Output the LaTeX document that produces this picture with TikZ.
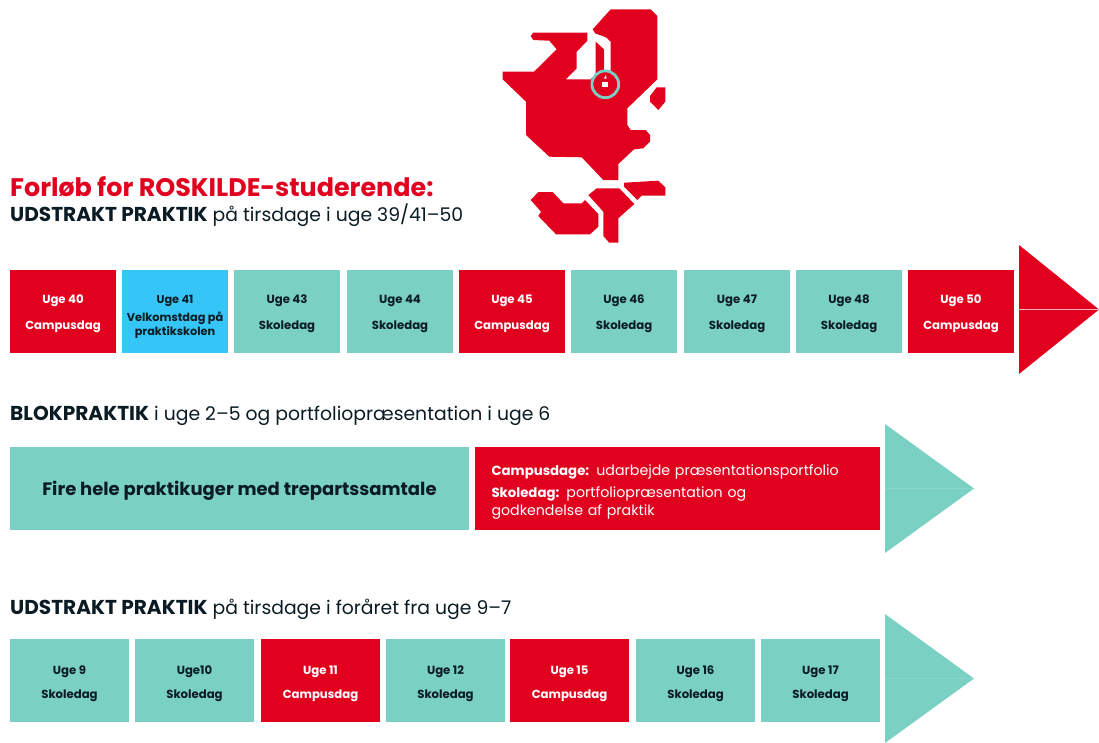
\documentclass[tikz,border=0pt]{standalone}
\usepackage{fontspec}
\setmainfont{Poppins}
\usepackage{xcolor}
\definecolor{dkred}{HTML}{E2001F}
\definecolor{dkteal}{HTML}{7AD1C3}
\definecolor{dkblue}{HTML}{36C5F7}
\definecolor{dkink}{HTML}{0B1B24}
\newcommand{\ugetxt}[2]{\rule{0pt}{13.4pt}#1\\[12pt]#2}
\newcommand{\ugetxtb}[2]{\rule{0pt}{15.4pt}#1\\[10pt]#2}
\newcommand{\hfed}[1]{{\fontsize{20.1}{22}\selectfont\bfseries #1}}
\newcommand{\pfed}[1]{{\fontsize{13.3}{18}\selectfont\bfseries #1}}
\tikzset{
  ugebox/.style={minimum height=83pt,inner sep=0pt,align=center,font=\fontsize{11.7}{14}\selectfont\bfseries},
  skole/.style={ugebox,fill=dkteal,text=dkink},
  campus/.style={ugebox,fill=dkred,text=white},
  velkomst/.style={ugebox,fill=dkblue,text=dkink},
  heading/.style={anchor=west,inner sep=0pt,text=dkink,font=\fontsize{18.8}{22}\selectfont},
}
\begin{document}
\begin{tikzpicture}[x=1pt,y=-1pt]
\useasboundingbox (0,0) rectangle (1099,742);

% kort
\fill[dkred] (610.7,9.3) -- (650.7,9.3) -- (657.3,16) -- (657.3,79.3) -- (627.3,108.3) -- (627.3,125) -- (630.7,130) -- (645.7,130)
  -- (650,135) -- (650,141.7) -- (643.3,148.3) -- (634,149.3) -- (618.3,164) -- (618.3,180) -- (603.3,180) -- (581.7,157.3)
  -- (549.3,156.7) -- (526,135) -- (526,101.7) -- (502.7,79.3) -- (502.7,71.7) -- (534,71.7) -- (556.7,49.3) -- (549.3,40.7)
  -- (533.3,40) -- (530.7,36) -- (533.3,32.7) -- (587.3,32.7) -- (587.3,40.7) -- (576.7,51.7) -- (576.7,68.3) -- (565.7,79.3)
  -- (590.7,79.3) -- (595.7,74) -- (595.7,41.7) -- (604,49.3) -- (604,71.7) -- (610.7,71.7) -- (610.7,41.7) -- (606,37.3)
  -- (595,33.3) -- (592.7,29.3) -- cycle;
\fill[dkred] (656.7,87.3) -- (665.3,87.3) -- (665.3,101.7) -- (658.3,110) -- (650,101.7) -- (650,96) -- cycle;
\fill[dkred] (624,182.7) -- (658.3,180.7) -- (665.3,187.3) -- (665.3,195.7) -- (641.7,195.7) -- (637.3,200) -- (624,186.7) -- cycle;
\fill[dkred] (596.7,188.3) -- (619.3,188.3) -- (634.3,204) -- (618.3,218.3) -- (618.3,242.7) -- (609.3,242.7) -- (603.3,236) -- (603.3,211.7) -- (588.3,195) -- cycle;
\fill[dkred] (538.3,192) -- (552.7,192) -- (563.3,203.3) -- (581.7,203.3) -- (585,200) -- (598.3,214) -- (598.3,226.7) -- (590,234.3) -- (556,234.3) -- (538.3,216) -- (541,211.7) -- (530.7,200) -- cycle;
\draw[dkteal,line width=2.8pt] (605.3,84.3) circle (13.4);
\fill[white] (602.3,81.7) rectangle (607.7,87);
\fill[white] (604,78.5) -- (606,75) -- (606.5,78.5) -- cycle;

% overskrifter
\node[heading,text=dkred,font=\fontsize{25.4}{28}\selectfont\bfseries] (titel) at (10,187) {Forløb for ROSKILDE-studerende:};
\node[heading] (udstrakt1) at (10,215) {\hfed{UDSTRAKT PRAKTIK} på tirsdage i uge 39/41–50};
\node[heading] (blok) at (10,415.5) {\hfed{BLOKPRAKTIK} i uge 2–5 og portfoliopræsentation i uge 6};
\node[heading] (udstrakt2) at (10,609.5) {\hfed{UDSTRAKT PRAKTIK} på tirsdage i foråret fra uge 9–7};

% efterår
\begin{scope}
\node[campus,minimum width=106pt] (uge40) at (63,311.5) {\ugetxt{Uge 40}{Campusdag}};
\node[velkomst,minimum width=106pt,font=\fontsize{11.3}{14}\selectfont\bfseries] (uge41) at (175,311.5) {\rule{0pt}{18pt}Uge 41\\[4pt]Velkomstdag på\\praktikskolen};
\node[skole,minimum width=106pt] (uge43) at (287,311.5) {\ugetxt{Uge 43}{Skoledag}};
\node[skole,minimum width=106pt] (uge44) at (400,311.5) {\ugetxt{Uge 44}{Skoledag}};
\node[campus,minimum width=106pt] (uge45) at (512,311.5) {\ugetxt{Uge 45}{Campusdag}};
\node[skole,minimum width=106pt] (uge46) at (624,311.5) {\ugetxt{Uge 46}{Skoledag}};
\node[skole,minimum width=106pt] (uge47) at (737,311.5) {\ugetxt{Uge 47}{Skoledag}};
\node[skole,minimum width=106pt] (uge48) at (849,311.5) {\ugetxt{Uge 48}{Skoledag}};
\node[campus,minimum width=106pt] (uge50) at (961,311.5) {\ugetxt{Uge 50}{Campusdag}};
\fill[dkred] (1019,245) -- (1099,309.5) -- (1019,374) -- cycle;
\draw[white!70!dkred,line width=0.5pt] (1019,309.5) -- (1099,309.5);
\end{scope}

% blok
\begin{scope}
\node[skole,minimum width=459pt,font=\fontsize{18}{22}\selectfont\bfseries] (praktikuger) at (239.5,488.5) {\rule{0pt}{19pt}Fire hele praktikuger med trepartssamtale};
\node[campus,minimum width=405pt,text width=371pt,align=left,font=\fontsize{14.2}{18}\selectfont] (portfolio) at (677,488.5) {\rule{0pt}{18pt}\pfed{Campusdage:} udarbejde præsentationsportfolio\\[4pt]\pfed{Skoledag:} portfoliopræsentation og\\godkendelse af praktik};
\fill[dkteal] (885,424) -- (974,488.5) -- (885,553) -- cycle;
\draw[white!12!dkteal,line width=0.5pt] (885,488.5) -- (974,488.5);
\end{scope}

% forår
\begin{scope}
\node[skole,minimum width=119pt] (uge9) at (69.5,680.5) {\ugetxtb{Uge 9}{Skoledag}};
\node[skole,minimum width=119pt] (uge10) at (194.5,680.5) {\ugetxtb{Uge10}{Skoledag}};
\node[campus,minimum width=119pt] (uge11) at (320.5,680.5) {\ugetxtb{Uge 11}{Campusdag}};
\node[skole,minimum width=119pt] (uge12) at (445.5,680.5) {\ugetxtb{Uge 12}{Skoledag}};
\node[campus,minimum width=119pt] (uge15) at (569.5,680.5) {\ugetxtb{Uge 15}{Campusdag}};
\node[skole,minimum width=119pt] (uge16) at (695.5,680.5) {\ugetxtb{Uge 16}{Skoledag}};
\node[skole,minimum width=119pt] (uge17) at (820.5,680.5) {\ugetxtb{Uge 17}{Skoledag}};
\fill[dkteal] (885,614) -- (974,678.5) -- (885,743) -- cycle;
\draw[white!12!dkteal,line width=0.5pt] (885,678.5) -- (974,678.5);
\end{scope}
\end{tikzpicture}
\end{document}
